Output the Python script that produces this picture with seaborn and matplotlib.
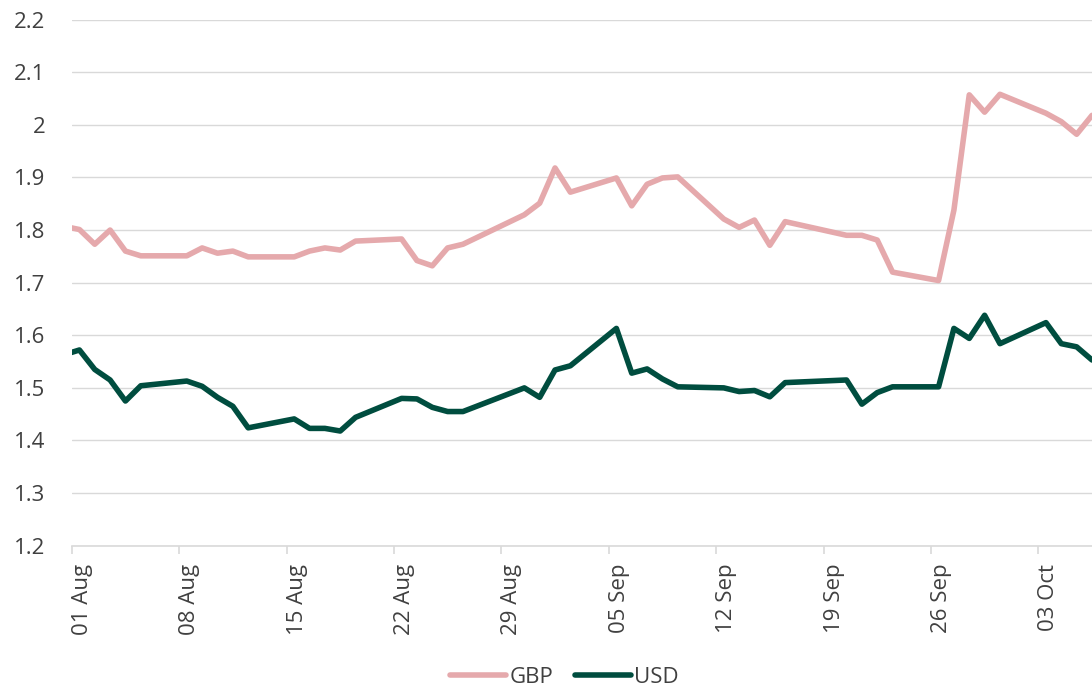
import pandas as pd
import numpy as np
import seaborn as sns
from matplotlib import pyplot as plt
from matplotlib import dates as mdates
from matplotlib.ticker import FuncFormatter, MultipleLocator

# business days (29 Aug and 19 Sep were UK holidays); 29 Jul only enters at the left edge
dates = [
    "2022-07-29",
    "2022-08-01", "2022-08-02", "2022-08-03", "2022-08-04", "2022-08-05",
    "2022-08-08", "2022-08-09", "2022-08-10", "2022-08-11", "2022-08-12",
    "2022-08-15", "2022-08-16", "2022-08-17", "2022-08-18", "2022-08-19",
    "2022-08-22", "2022-08-23", "2022-08-24", "2022-08-25", "2022-08-26",
    "2022-08-30", "2022-08-31", "2022-09-01", "2022-09-02",
    "2022-09-05", "2022-09-06", "2022-09-07", "2022-09-08", "2022-09-09",
    "2022-09-12", "2022-09-13", "2022-09-14", "2022-09-15", "2022-09-16",
    "2022-09-20", "2022-09-21", "2022-09-22", "2022-09-23",
    "2022-09-26", "2022-09-27", "2022-09-28", "2022-09-29", "2022-09-30",
    "2022-10-03", "2022-10-04", "2022-10-05", "2022-10-06",
]

gbp = [
    1.819,
    1.801, 1.773, 1.800, 1.760, 1.751,
    1.751, 1.766, 1.756, 1.760, 1.749,
    1.749, 1.760, 1.766, 1.762, 1.779,
    1.783, 1.742, 1.732, 1.766, 1.773,
    1.829, 1.851, 1.918, 1.872,
    1.899, 1.846, 1.887, 1.899, 1.901,
    1.821, 1.805, 1.819, 1.771, 1.816,
    1.790, 1.790, 1.781, 1.720,
    1.704, 1.838, 2.057, 2.024, 2.058,
    2.022, 2.006, 1.982, 2.018,
]

usd = [
    1.545,
    1.572, 1.535, 1.515, 1.475, 1.504,
    1.513, 1.503, 1.482, 1.465, 1.424,
    1.441, 1.423, 1.423, 1.418, 1.444,
    1.480, 1.479, 1.463, 1.455, 1.455,
    1.500, 1.482, 1.534, 1.542,
    1.613, 1.528, 1.536, 1.517, 1.502,
    1.500, 1.493, 1.495, 1.483, 1.510,
    1.515, 1.469, 1.491, 1.502,
    1.502, 1.613, 1.594, 1.638, 1.584,
    1.624, 1.584, 1.578, 1.553,
]

currencies = ["GBP", "USD"]
colors = ["#e5a9ac", "#004d3f"]
tick_dates = ["2022-08-01", "2022-08-08", "2022-08-15", "2022-08-22", "2022-08-29",
              "2022-09-05", "2022-09-12", "2022-09-19", "2022-09-26", "2022-10-03"]

# points sit in the middle of each day on the date axis
x = pd.to_datetime(dates) + pd.Timedelta(hours=12)
df = pd.concat([
    pd.DataFrame({"date": x, "rate": gbp, "currency": "GBP"}),
    pd.DataFrame({"date": x, "rate": usd, "currency": "USD"}),
])

sns.set_style("white")
plt.rcParams["font.family"] = ["Open Sans", "DejaVu Sans"]
text_col = "#404040"
grid_col = "#d9d9d9"

fig = plt.figure(figsize=(10.92, 6.92), dpi=100)
ax = fig.add_axes([0.0657, 0.2114, 0.9343, 0.7603])

sns.lineplot(data=df, x="date", y="rate", hue="currency", hue_order=currencies,
             palette=colors, linewidth=4.0, legend=False, ax=ax)
for line in ax.lines:
    line.set_solid_capstyle("round")
    line.set_solid_joinstyle("round")

ax.set_xlim(pd.Timestamp("2022-08-01"), pd.Timestamp("2022-10-06 12:00"))
ax.set_ylim(1.2, 2.2)
ax.yaxis.set_major_locator(MultipleLocator(0.1))
ax.yaxis.set_major_formatter(FuncFormatter(lambda v, p: f"{round(v, 1):g}"))
ax.set_xticks(pd.to_datetime(tick_dates))
ax.xaxis.set_major_formatter(mdates.DateFormatter("%d %b"))
ax.set_xlabel("")
ax.set_ylabel("")

ax.grid(axis="y", color=grid_col, linewidth=1.0)
ax.grid(axis="x", visible=False)
for side in ["top", "right", "left"]:
    ax.spines[side].set_visible(False)
ax.spines["bottom"].set_color(grid_col)
ax.spines["bottom"].set_linewidth(1.2)

ax.tick_params(axis="y", length=0, pad=19, labelsize=16, labelcolor=text_col)
ax.tick_params(axis="x", length=6, width=1.2, color=grid_col, pad=7,
               labelsize=16, labelcolor=text_col, direction="out", bottom=True)
for lab in ax.get_xticklabels():
    lab.set_rotation(90)
    lab.set_ha("left")
    lab.set_va("top")

fig.legend(ax.lines[:2], currencies, loc="center", bbox_to_anchor=(0.517, 0.021),
           ncol=2, frameon=False, fontsize=16, handlelength=2.5,
           handletextpad=0.15, columnspacing=1.0, labelcolor=text_col,
           borderpad=0.2)

fig.savefig("out.png", dpi=100)
